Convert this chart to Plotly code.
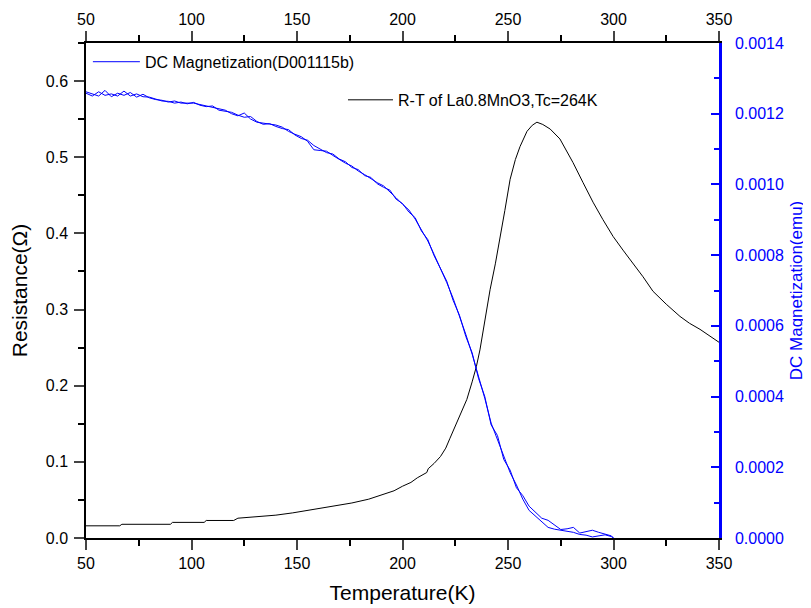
import plotly.graph_objects as go

# R-T data (Temperature K, Resistance Ohm)
T_rt = [50, 60, 66, 67, 90, 91, 106, 107, 120, 122, 131, 140, 148, 155, 161, 170, 176, 184, 191, 196,
        200, 204, 207, 210, 211.5, 212.2, 215, 218, 220.5, 222.5, 225.5, 228, 230.5, 233, 235, 236.7,
        239, 241.5, 244, 246.2, 248.5, 251, 253.5, 255.7, 257.5, 259, 261.5, 263.7, 266.5, 270, 274.6,
        277.5, 280.8, 285.5, 290.3, 295, 299.8, 304.5, 309, 314, 318.7, 325, 331.5, 336, 341, 345.5, 350]
R_rt = [0.016, 0.016, 0.016, 0.018, 0.018, 0.0205, 0.0205, 0.023, 0.023, 0.026, 0.028, 0.030, 0.033,
        0.036, 0.039, 0.043, 0.046, 0.051, 0.057, 0.062, 0.068, 0.073, 0.079, 0.084, 0.086, 0.091, 0.098,
        0.107, 0.118, 0.131, 0.150, 0.165, 0.182, 0.205, 0.225, 0.247, 0.285, 0.326, 0.360, 0.392, 0.430,
        0.471, 0.497, 0.514, 0.526, 0.534, 0.542, 0.546, 0.543, 0.537, 0.524, 0.510, 0.493, 0.467, 0.441,
        0.418, 0.396, 0.378, 0.362, 0.343, 0.324, 0.307, 0.291, 0.282, 0.274, 0.265, 0.257]

# DC magnetization data (Temperature K, emu), two sweeps
T_m = [50, 53, 56, 59, 62, 65, 68, 71, 74, 77, 80, 83, 86, 89, 92, 95, 98, 101, 104, 107, 110, 113,
       116, 119, 122, 125, 128, 131, 134, 137, 140, 143, 146, 149, 152, 155, 158, 161, 164, 167, 170,
       173, 176, 179, 182, 185, 188, 191, 194, 197, 200, 203, 206, 209, 212, 215, 218, 221, 224, 227,
       230, 233, 236, 239, 242, 245, 248, 251, 254, 257, 260, 263, 266, 269, 272, 275, 278, 281, 284,
       287, 290, 293, 296, 299, 300]
M_a = [0.001262, 0.001255, 0.001250, 0.001266, 0.001248, 0.001258, 0.001252, 0.001260, 0.001247,
       0.001255, 0.001245, 0.001240, 0.001238, 0.001233, 0.001236, 0.001230, 0.001231, 0.001230,
       0.001226, 0.001222, 0.001218, 0.001212, 0.001210, 0.001200, 0.001194, 0.001202, 0.001185,
       0.001176, 0.001174, 0.001170, 0.001168, 0.001162, 0.001150, 0.001142, 0.001135, 0.001122,
       0.001098, 0.001096, 0.001094, 0.001082, 0.001070, 0.001060, 0.001052, 0.001038, 0.001028,
       0.001016, 0.001005, 0.000996, 0.000980, 0.000962, 0.000944, 0.000928, 0.000902, 0.000872,
       0.000840, 0.000802, 0.000764, 0.000722, 0.000678, 0.000628, 0.000576, 0.000520, 0.000458,
       0.000395, 0.000325, 0.000280, 0.000230, 0.000185, 0.000150, 0.000110, 0.000078, 0.000062,
       0.000048, 0.000030, 0.000025, 0.000022, 0.000020, 0.000016, 0.000010, 0.000008, 0.000003,
       0.000006, 0.000009, 0.000004, 0.0]
M_b = [0.001258, 0.001250, 0.001262, 0.001252, 0.001256, 0.001250, 0.001264, 0.001250, 0.001256,
       0.001248, 0.001247, 0.001242, 0.001236, 0.001235, 0.001230, 0.001233, 0.001228, 0.001232,
       0.001224, 0.001220, 0.001222, 0.001210, 0.001206, 0.001204, 0.001196, 0.001190, 0.001192,
       0.001178, 0.001170, 0.001172, 0.001164, 0.001158, 0.001155, 0.001140, 0.001130, 0.001125,
       0.001110, 0.001100, 0.001090, 0.001086, 0.001072, 0.001064, 0.001048, 0.001042, 0.001025,
       0.001020, 0.001002, 0.000992, 0.000984, 0.000958, 0.000946, 0.000922, 0.000906, 0.000868,
       0.000844, 0.000798, 0.000760, 0.000726, 0.000672, 0.000630, 0.000570, 0.000524, 0.000452,
       0.000400, 0.000320, 0.000290, 0.000222, 0.000192, 0.000142, 0.000120, 0.000090, 0.000074,
       0.000056, 0.000050, 0.000038, 0.000024, 0.000026, 0.000030, 0.000014, 0.000018, 0.000022,
       0.000016, 0.000010, 0.000006, 0.0]

FONT = "Liberation Sans, Arial, sans-serif"
BLUE = "#0000ff"

fig = go.Figure()
fig.add_trace(go.Scatter(x=T_rt, y=R_rt, mode="lines", name="R-T of La0.8MnO3,Tc=264K",
                         line=dict(color="black", width=1), xaxis="x", yaxis="y", legend="legend2"))
fig.add_trace(go.Scatter(x=T_m, y=M_a, mode="lines", name="DC Magnetization(D001115b)",
                         line=dict(color=BLUE, width=1), xaxis="x2", yaxis="y2", legend="legend"))
fig.add_trace(go.Scatter(x=T_m, y=M_b, mode="lines", name="DC Magnetization(D001115b) b",
                         line=dict(color=BLUE, width=1), xaxis="x2", yaxis="y2", showlegend=False))

tickfont = dict(family=FONT, size=16, color="black")
fig.update_layout(
    width=811, height=608,
    margin=dict(l=78, r=100, t=35, b=78),
    paper_bgcolor="white", plot_bgcolor="white",
    font=dict(family=FONT, size=16, color="black"),
    xaxis=dict(range=[50, 350], dtick=50, tick0=50, ticks="outside", ticklen=10, tickwidth=1.5,
               showline=True, linecolor="black", linewidth=1.5, showgrid=False, zeroline=False,
               tickfont=tickfont, automargin=False,
               minor=dict(dtick=25, tick0=50, ticks="outside", ticklen=6, tickwidth=1.5, tickcolor="black"),
               title=dict(text="Temperature(K)", font=dict(family=FONT, size=21), standoff=14)),
    yaxis=dict(range=[0, 0.65], dtick=0.1, tick0=0, ticks="outside", ticklen=10, tickwidth=1.5,
               tickformat=".1f", automargin=False, ticklabelstandoff=3,
               showline=True, linecolor="black", linewidth=1.5, showgrid=False, zeroline=False,
               tickfont=tickfont,
               minor=dict(dtick=0.05, tick0=0, ticks="outside", ticklen=6, tickwidth=1.5, tickcolor="black"),
               title=dict(text="Resistance(Ω)", font=dict(family=FONT, size=21), standoff=17)),
    xaxis2=dict(range=[50, 350], dtick=50, tick0=50, ticks="outside", ticklen=10, tickwidth=1.5,
                overlaying="x", side="top", anchor="y2", automargin=False,
                showline=True, linecolor="black", linewidth=1.5, showgrid=False, zeroline=False,
                tickfont=tickfont,
                minor=dict(dtick=25, tick0=50, ticks="outside", ticklen=6, tickwidth=1.5, tickcolor="black")),
    yaxis2=dict(range=[0, 0.0014], dtick=0.0002, tick0=0, ticks="inside", ticklen=8, tickwidth=2,
                tickcolor=BLUE, tickformat=".4f", overlaying="y", side="right", anchor="x2",
                showline=True, linecolor=BLUE, linewidth=2.5, showgrid=False, zeroline=False,
                tickfont=dict(family=FONT, size=16, color=BLUE), automargin=False,
                ticklabelstandoff=10,
                minor=dict(dtick=0.0001, tick0=0, ticks="inside", ticklen=5, tickwidth=1.5, tickcolor=BLUE),
                title=dict(text="DC Magnetization(emu)", font=dict(family=FONT, size=17, color=BLUE),
                           standoff=8)),
    legend=dict(x=0.003, y=0.962, xanchor="left", yanchor="middle", bgcolor="rgba(0,0,0,0)",
                font=dict(family=FONT, size=16), itemwidth=47, tracegroupgap=0),
    legend2=dict(x=0.406, y=0.885, xanchor="left", yanchor="middle", bgcolor="rgba(0,0,0,0)",
                 font=dict(family=FONT, size=16), itemwidth=45, tracegroupgap=0),
    showlegend=True,
)

fig.write_html("out.html")
